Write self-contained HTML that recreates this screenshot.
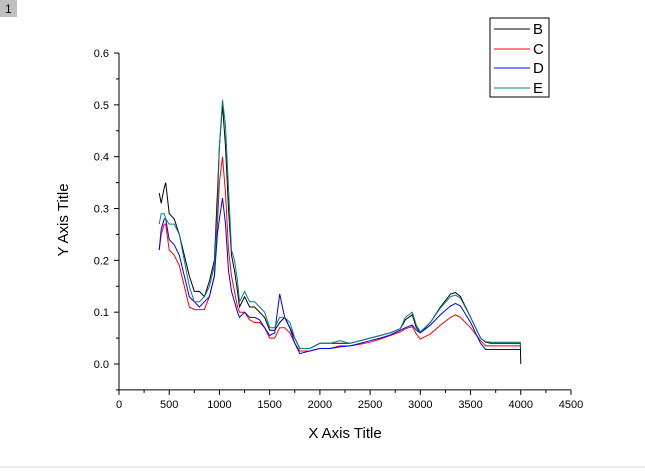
<!DOCTYPE html>
<html><head><meta charset="utf-8"><style>
body{margin:0;background:#fff;}
svg{display:block;font-family:"Liberation Sans",Arial,sans-serif;}
</style></head><body>
<svg id="chart" width="645" height="472">
<rect x="0" y="0" width="17" height="17" fill="#c0c0c0"/>
<text x="5" y="13" font-size="12">1</text>
<line x1="0" y1="467" x2="645" y2="467" stroke="#ddd"/>
<g id="axes"></g>
<g id="series"></g>
<g>
<rect x="490" y="18" width="59" height="79" fill="#fff" stroke="#000" stroke-width="1"/>
<line x1="494" y1="29" x2="530" y2="29" stroke="#000"/>
<text x="533" y="34" font-size="15">B</text>
<line x1="494" y1="49" x2="530" y2="49" stroke="#f00"/>
<text x="533" y="54" font-size="15">C</text>
<line x1="494" y1="68" x2="530" y2="68" stroke="#00f"/>
<text x="533" y="73" font-size="15">D</text>
<line x1="494" y1="88" x2="530" y2="88" stroke="#008080"/>
<text x="533" y="93" font-size="15">E</text>
</g>
<text x="345" y="438" font-size="15" text-anchor="middle">X Axis Title</text>
<text x="0" y="0" font-size="15" text-anchor="middle" transform="translate(68,220) rotate(-90)">Y Axis Title</text>
</svg>
<script>
const xs = [400,420,450,465,500,550,600,650,700,750,800,850,900,950,980,1000,1030,1060,1090,1120,1150,1180,1200,1250,1300,1350,1400,1450,1500,1550,1600,1650,1700,1750,1800,1900,2000,2100,2200,2300,2400,2500,2600,2700,2800,2850,2920,2960,3000,3100,3200,3300,3350,3400,3500,3600,3650,3700,3800,3900,3995,4000];
const seriesB = [0.33,0.31,0.34,0.35,0.29,0.28,0.25,0.21,0.17,0.14,0.14,0.13,0.16,0.20,0.33,0.42,0.50,0.42,0.30,0.21,0.18,0.14,0.11,0.13,0.11,0.11,0.10,0.09,0.065,0.065,0.08,0.09,0.07,0.05,0.03,0.03,0.04,0.04,0.04,0.04,0.045,0.05,0.055,0.06,0.068,0.085,0.095,0.07,0.06,0.08,0.11,0.135,0.138,0.13,0.09,0.05,0.042,0.04,0.04,0.04,0.04,0.0];
const seriesC = [0.22,0.25,0.27,0.27,0.22,0.21,0.19,0.15,0.11,0.105,0.105,0.105,0.13,0.17,0.27,0.35,0.40,0.33,0.22,0.17,0.14,0.11,0.10,0.10,0.085,0.08,0.08,0.07,0.05,0.05,0.07,0.07,0.06,0.04,0.025,0.025,0.03,0.03,0.035,0.035,0.038,0.042,0.048,0.055,0.062,0.068,0.072,0.058,0.048,0.058,0.075,0.09,0.095,0.09,0.07,0.045,0.035,0.035,0.035,0.035,0.035,0.035];
const seriesD = [0.22,0.26,0.28,0.28,0.24,0.23,0.21,0.17,0.13,0.12,0.11,0.12,0.13,0.17,0.25,0.28,0.32,0.27,0.18,0.14,0.12,0.10,0.09,0.10,0.09,0.09,0.085,0.07,0.055,0.06,0.135,0.09,0.07,0.04,0.02,0.025,0.03,0.03,0.033,0.035,0.04,0.045,0.05,0.056,0.065,0.07,0.075,0.065,0.06,0.075,0.095,0.112,0.117,0.112,0.08,0.04,0.028,0.028,0.028,0.028,0.028,0.028];
const seriesE = [0.27,0.29,0.29,0.28,0.27,0.27,0.25,0.20,0.15,0.12,0.12,0.13,0.15,0.19,0.30,0.42,0.51,0.46,0.34,0.22,0.20,0.16,0.12,0.14,0.12,0.12,0.11,0.10,0.07,0.07,0.09,0.09,0.08,0.05,0.03,0.03,0.04,0.04,0.045,0.04,0.045,0.05,0.055,0.06,0.068,0.09,0.10,0.075,0.062,0.08,0.108,0.13,0.133,0.127,0.09,0.05,0.043,0.042,0.042,0.042,0.042,0.03];
const xTicks = [0,500,1000,1500,2000,2500,3000,3500,4000,4500];
const yTicks = [0.0,0.1,0.2,0.3,0.4,0.5,0.6];
const NS='http://www.w3.org/2000/svg';
const X0=119,X1=571,Y0=364,PPU=518.3;
function sx(v){return X0+(v/4500)*(X1-X0);}
function sy(v){return Y0-v*PPU;}
const axes=document.getElementById('axes');
function mk(tag,attrs,parent){const e=document.createElementNS(NS,tag);for(const k in attrs)e.setAttribute(k,attrs[k]);parent.appendChild(e);return e;}
const yb=sy(-0.05);
const ya=mk('line',{x1:X0,y1:sy(0.6),x2:X0,y2:yb,stroke:'#000'},axes);


const xa=mk('line',{x1:X0,y1:yb,x2:X1,y2:yb,stroke:'#000'},axes);


xTicks.forEach(t=>{
  mk('line',{x1:sx(t),y1:yb,x2:sx(t),y2:yb+5,stroke:'#000'},axes);
  if(t<4500) mk('line',{x1:sx(t+250),y1:yb,x2:sx(t+250),y2:yb+3,stroke:'#000'},axes);
  const tx=mk('text',{x:sx(t),y:yb+18,'font-size':11,'text-anchor':'middle'},axes);
  tx.textContent=String(t);
  
  
});
yTicks.forEach(t=>{
  mk('line',{x1:X0-5,y1:sy(t),x2:X0,y2:sy(t),stroke:'#000'},axes);
  mk('line',{x1:X0-3,y1:sy(t-0.05),x2:X0,y2:sy(t-0.05),stroke:'#000'},axes);
  const tx=mk('text',{x:X0-10,y:sy(t)+4,'font-size':11,'text-anchor':'end'},axes);
  tx.textContent=t.toFixed(1);
  
  
});
const sg=document.getElementById('series');
[[seriesB,'#000','series-b'],[seriesC,'#f00','series-c'],[seriesD,'#00f','series-d'],[seriesE,'#008080','series-e']].forEach(([arr,col,name])=>{
  const d=arr.map((v,i)=>(i?'L':'M')+sx(xs[i]).toFixed(1)+','+sy(v).toFixed(1)).join(' ');
  const p=mk('path',{d:d,fill:'none',stroke:col,'stroke-width':1},sg);
  
  
});
</script>
</body></html>
